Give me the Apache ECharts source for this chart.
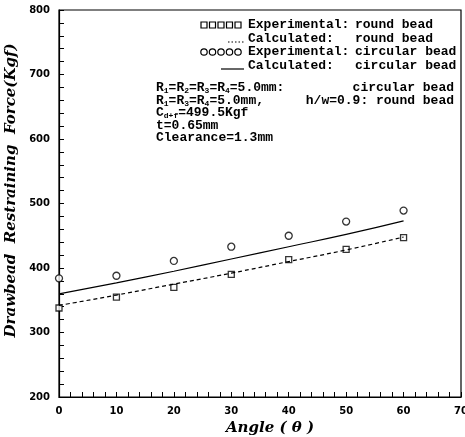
<!DOCTYPE html>
<html>
<head>
<meta charset="utf-8">
<script src="https://cdn.jsdelivr.net/npm/echarts@6/dist/echarts.min.js"></script>
<style>
html, body { margin: 0; padding: 0; background: #fff; }
#chart { width: 465px; height: 437px; }
</style>
</head>
<body>
<div id="chart"></div>
<script>
// data
var angles = [0, 10, 20, 30, 40, 50, 60];
var expRound = [338, 355, 370, 390, 413, 429, 447];
var calcRound = [342, 358, 375, 392, 410, 428, 448];
var expCircular = [384, 388, 411, 433, 450, 472, 489];
var calcCircular = [360, 377, 395, 414, 433, 452, 473];

var legendLeft = ['Experimental:', 'Calculated:', 'Experimental:', 'Calculated:'];
var legendRight = ['round bead', 'round bead', 'circular bead', 'circular bead'];

var noteLines = [
    '{m|R}{s|1}{m|=R}{s|2}{m|=R}{s|3}{m|=R}{s|4}{m|=5.0mm:}',
    '{m|R}{s|1}{m|=R}{s|3}{m|=R}{s|4}{m|=5.0mm,}',
    '{m|C}{s|d+f}{m|=499.5Kgf}',
    '{m|t=0.65mm}',
    '{m|Clearance=1.3mm}'
];
var noteRight = ['circular bead', 'h/w=0.9: round bead', '', '', ''];

function pairs(ys) {
    return angles.map(function(a, i) { return [a, ys[i]]; });
}

var mono = 'Liberation Mono';
var rich = {
    m: { fontFamily: mono, fontWeight: 'bold', fontSize: 13, lineHeight: 14, verticalAlign: 'top', fill: '#000' },
    s: { fontFamily: mono, fontWeight: 'bold', fontSize: 8, lineHeight: 8, verticalAlign: 'bottom', fill: '#000' }
};

//legend drawn by hand
var rowY = [25, 39, 52, 66];
var graphics = [];
for (var r = 0; r < 4; r++) {
    graphics.push({
        type: 'text',
        style: { text: legendLeft[r], x: 248, y: rowY[r], font: 'bold 13px ' + mono, fill: '#000', verticalAlign: 'middle' }
    });
    graphics.push({
        type: 'text',
        style: { text: legendRight[r], x: 355, y: rowY[r], font: 'bold 13px ' + mono, fill: '#000', verticalAlign: 'middle' }
    });
}
for (var k = 0; k < 5; k++) {
    graphics.push({
        type: 'rect',
        shape: { x: 201 + k * 8.5, y: rowY[0] - 3, width: 6, height: 6 },
        style: { fill: 'none', stroke: '#000', lineWidth: 1.2 }
    });
    graphics.push({
        type: 'circle',
        shape: { cx: 204 + k * 8.5, cy: rowY[2], r: 3.2 },
        style: { fill: 'none', stroke: '#000', lineWidth: 1.2 }
    });
}
graphics.push({
    type: 'line',
    shape: { x1: 228, y1: rowY[1] + 3, x2: 244, y2: rowY[1] + 3 },
    style: { stroke: '#000', lineWidth: 1.2, lineDash: [1.5, 2] }
});
graphics.push({
    type: 'line',
    shape: { x1: 221, y1: rowY[3] + 3, x2: 244, y2: rowY[3] + 3 },
    style: { stroke: '#000', lineWidth: 1.2 }
});

var noteY = [88, 101, 113, 126, 138];
for (var n = 0; n < noteLines.length; n++) {
    graphics.push({
        type: 'text',
        style: { text: noteLines[n], x: 156, y: noteY[n], rich: rich, verticalAlign: 'middle' }
    });
    if (noteRight[n]) {
        graphics.push({
            type: 'text',
            style: { text: noteRight[n], x: 454, y: noteY[n], font: 'bold 13px ' + mono, fill: '#000', align: 'right', verticalAlign: 'middle' }
        });
    }
}

var labelFont = { color: '#000', fontFamily: 'DejaVu Sans', fontWeight: 'bold', fontSize: 10 };
var nameFont = { color: '#000', fontFamily: 'DejaVu Serif', fontWeight: 'bold', fontStyle: 'italic', fontSize: 15 };

var chart = echarts.init(document.getElementById('chart'));
chart.setOption({
    animation: false,
    backgroundColor: '#fff',
    grid: {
        left: 59, right: 4, top: 10, bottom: 40, outerBoundsMode: 'none', containLabel: false,
        show: true, borderColor: '#000', borderWidth: 1.2
    },
    xAxis: {
        type: 'value', min: 0, max: 70, interval: 10,
        name: 'Angle ( θ )', nameLocation: 'middle', nameGap: 22,
        nameTextStyle: Object.assign({ padding: [0, 0, 0, 20] }, nameFont),
        axisLine: { lineStyle: { color: '#000', width: 1.2 } },
        axisTick: { inside: true, length: 5, lineStyle: { color: '#000' } },
        minorTick: { show: true, splitNumber: 5, length: 5, lineStyle: { color: '#000' } },
        axisLabel: Object.assign({ margin: 9 }, labelFont),
        splitLine: { show: false }
    },
    yAxis: {
        type: 'value', min: 200, max: 800, interval: 100,
        name: 'Drawbead  Restraining  Force(Kgf)', nameLocation: 'middle', nameGap: 28,
        nameTextStyle: Object.assign({ padding: [0, 0, 0, 26] }, nameFont),
        axisLine: { lineStyle: { color: '#000', width: 1.2 } },
        axisTick: { inside: true, length: 5, lineStyle: { color: '#000' } },
        minorTick: { show: true, splitNumber: 5, length: 5, lineStyle: { color: '#000' } },
        axisLabel: Object.assign({ margin: 9 }, labelFont),
        splitLine: { show: false }
    },
    graphic: graphics,
    series: [{
        name: 'Experimental: round bead', type: 'scatter', data: pairs(expRound),
        symbol: 'rect', symbolSize: 6, clip: false,
        itemStyle: { color: '#fff', borderColor: '#000', borderWidth: 1.3 }
    }, {
        name: 'Calculated: round bead', type: 'line', data: pairs(calcRound),
        smooth: true, showSymbol: false, symbol: 'none',
        lineStyle: { color: '#000', width: 1.2, type: [4, 3] }
    }, {
        name: 'Experimental: circular bead', type: 'scatter', data: pairs(expCircular),
        symbol: 'circle', symbolSize: 7, clip: false,
        itemStyle: { color: '#fff', borderColor: '#000', borderWidth: 1.3 }
    }, {
        name: 'Calculated: circular bead', type: 'line', data: pairs(calcCircular),
        smooth: true, showSymbol: false, symbol: 'none',
        lineStyle: { color: '#000', width: 1.2 }
    }]
});
</script>
</body>
</html>
